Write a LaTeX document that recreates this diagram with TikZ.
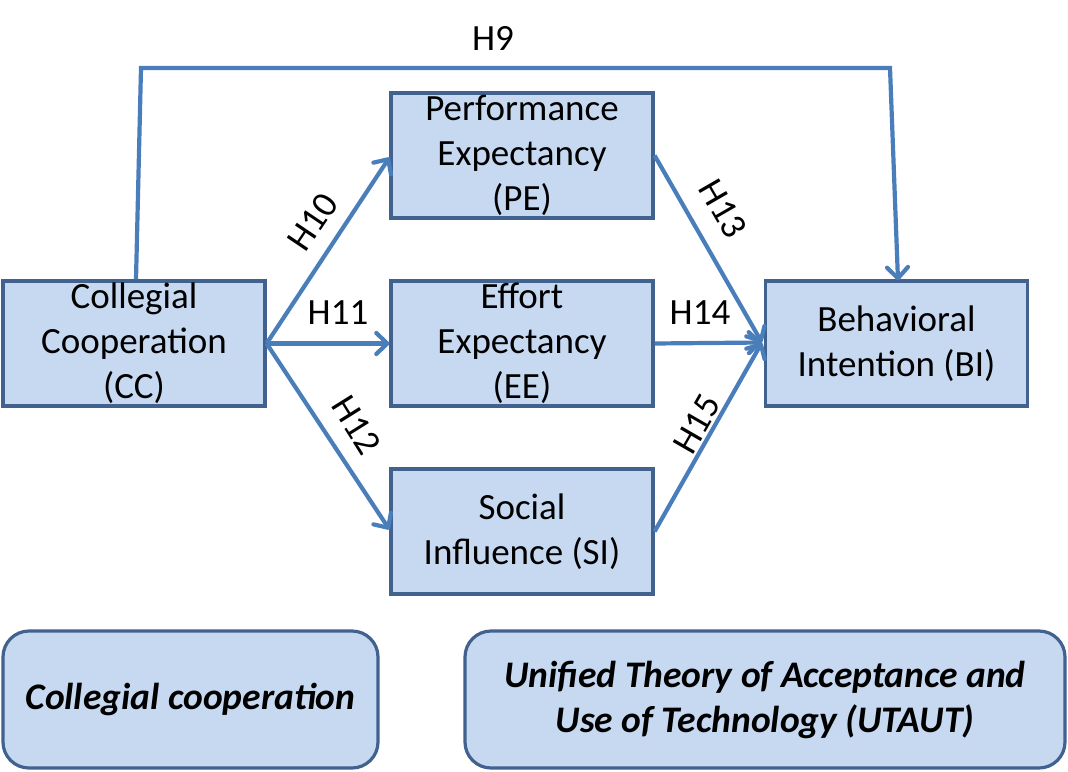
\documentclass[tikz,border=0pt]{standalone}
\usepackage{fontspec}
\setmainfont{Carlito}
\usetikzlibrary{arrows.meta}
\definecolor{boxfill}{HTML}{C6D9F1}
\definecolor{boxline}{HTML}{41618F}
\definecolor{arrowc}{HTML}{4A7EBB}
\tikzset{
  cbox/.style={draw=boxline, fill=boxfill, line width=3.2pt, minimum width=262pt, minimum height=125pt, inner sep=0pt, align=center, font=\fontsize{37}{45}\selectfont},
  rbox/.style={draw=boxline, fill=boxfill, line width=3.2pt, rounded corners=26pt, inner sep=0pt, align=center, font=\fontsize{37.5}{45}\selectfont\bfseries\itshape},
  conn/.style={draw=arrowc, line width=4.2pt, -{Straight Barb[length=11pt,width=21pt,line width=4.2pt,round]}},
  hlab/.style={font=\fontsize{37}{40}\selectfont, inner sep=0pt}
}
\begin{document}
\begin{tikzpicture}[x=1pt,y=-1pt]
\useasboundingbox (0,0) rectangle (1068,771);
\node[cbox] (CC) at (134,343.5) {Collegial\\Cooperation\\(CC)};
\node[cbox] (PE) at (522,155.5) {Performance\\Expectancy\\(PE)};
\node[cbox] (EE) at (522,343.5) {Effort\\Expectancy\\(EE)};
\node[cbox] (SI) at (522,531.5) {Social\\Influence (SI)};
\node[cbox] (BI) at (896.5,343.5) {Behavioral\\Intention (BI)};
\node[rbox, minimum width=375pt, minimum height=137pt] (L) at (190.5,699.5) {Collegial cooperation};
\node[rbox, minimum width=600pt, minimum height=137pt] (R) at (765,699.5) {Unified Theory of Acceptance and\\Use of Technology (UTAUT)};
\coordinate (t1) at (141,68);
\coordinate (t2) at (890,68);
\draw[conn] ([xshift=2pt]CC.north) -- (t1) -- (t2) -- ([xshift=1.5pt,yshift=-1pt]BI.north);
\draw[conn] (CC.east) -- ([yshift=-2pt]PE.west);
\draw[conn] (CC.east) -- (EE.west);
\draw[conn] (CC.east) -- ([yshift=2pt]SI.west);
\draw[conn] (PE.east) -- ([xshift=-2pt,yshift=1pt]BI.west);
\draw[conn] (EE.east) -- ([xshift=-2pt,yshift=1pt]BI.west);
\draw[conn] (SI.east) -- ([xshift=-2pt,yshift=1pt]BI.west);
\node[hlab] (h9) at (493,38) {H9};
\node[hlab, rotate=56] (h10) at (313,222) {H10};
\node[hlab] (h11) at (338,313) {H11};
\node[hlab, rotate=-58] (h12) at (357,425) {H12};
\node[hlab, rotate=-60] (h13) at (723,209) {H13};
\node[hlab] (h14) at (700,313) {H14};
\node[hlab, rotate=60] (h15) at (697,424) {H15};
\end{tikzpicture}
\end{document}
